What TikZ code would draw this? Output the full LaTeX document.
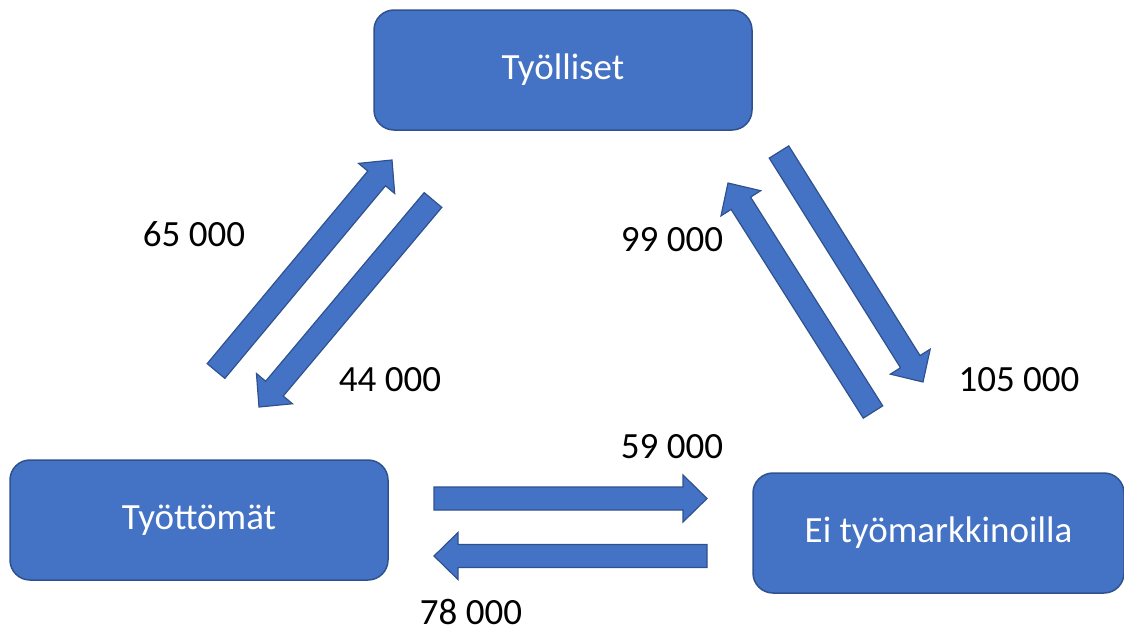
\documentclass[tikz,border=0pt]{standalone}
\usepackage{fontspec}
\setmainfont{Carlito}
\usetikzlibrary{calc}
\definecolor{boxblue}{HTML}{4472C4}
\definecolor{edgeblue}{HTML}{2F528F}
\tikzset{
  state/.style={draw=edgeblue,line width=1.5pt,fill=boxblue,rounded corners=20pt,
    text=white,font=\fontsize{37}{42}\selectfont,minimum height=120pt},
  flow/.style={draw=edgeblue,line width=1.2pt,fill=boxblue,line join=miter},
  num/.style={font=\fontsize{37}{42}\selectfont}
}
% block arrow from tail #1 to tip #2
\newcommand{\blockarrow}[2]{%
  \coordinate (hb) at ($(#2)!24pt!(#1)$);
  \draw[flow] ($(#1)!11.5pt!90:(#2)$) -- ($(hb)!11.5pt!90:(#2)$)
    -- ($(hb)!23.5pt!90:(#2)$) -- (#2) -- ($(hb)!23.5pt!-90:(#2)$)
    -- ($(hb)!11.5pt!-90:(#2)$) -- ($(#1)!11.5pt!-90:(#2)$) -- cycle;}
\begin{document}
\begin{tikzpicture}[x=1pt,y=-1pt]
\useasboundingbox (0,0) rectangle (1124,632);

\node[state,minimum width=378pt] (emp) at (563,70) {\raisebox{-3pt}{Työlliset}};
\node[state,minimum width=378pt] (unemp) at (199,520) {\raisebox{-3pt}{Työttömät}};
\node[state,minimum width=371pt] (out) at (938.5,533) {\raisebox{-3pt}{Ei työmarkkinoilla}};

% ends of the flows
\coordinate (ue1) at (216,371);  \coordinate (ue2) at (392,160);
\coordinate (eu1) at (433,200);  \coordinate (eu2) at (259,407);
\coordinate (uo1) at (434,498.5);\coordinate (uo2) at (707,498.5);
\coordinate (ou1) at (707,556);  \coordinate (ou2) at (434,556);
\coordinate (oe1) at (873,412);  \coordinate (oe2) at (728,183);
\coordinate (eo1) at (779,152);  \coordinate (eo2) at (923,382);

\blockarrow{ue1}{ue2}
\blockarrow{eu1}{eu2}
\blockarrow{uo1}{uo2}
\blockarrow{ou1}{ou2}
\blockarrow{oe1}{oe2}
\blockarrow{eo1}{eo2}

\node[num] (n1) at (194,234) {65 000};
\node[num] (n2) at (390,380) {44 000};
\node[num] (n3) at (672,240) {99 000};
\node[num] (n4) at (1019,380) {105 000};
\node[num] (n5) at (672,447) {59 000};
\node[num] (n6) at (471,612) {78 000};

\end{tikzpicture}
\end{document}
